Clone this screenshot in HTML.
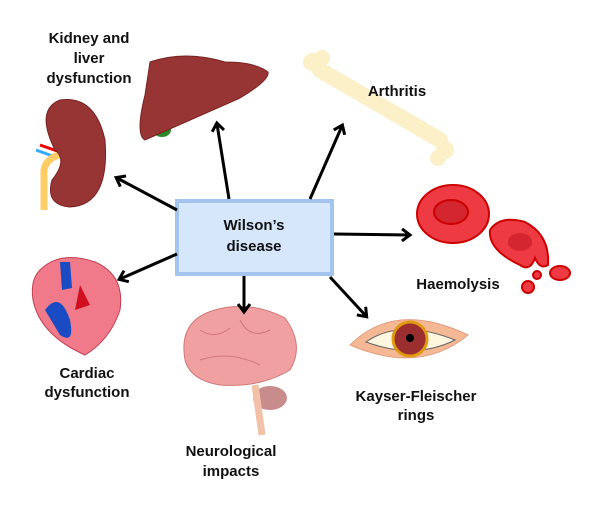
<!DOCTYPE html>
<html><head><style>
body{margin:0;background:#fff;width:602px;height:510px;overflow:hidden}
svg text{font-family:"Liberation Sans",sans-serif;font-weight:bold;font-size:15px;fill:#111;text-anchor:middle}
</style></head><body>
<svg width="602" height="510" viewBox="0 0 602 510">
<defs><marker id="a" markerWidth="14" markerHeight="14" refX="8" refY="7" orient="auto" markerUnits="userSpaceOnUse"><path d="M1,1 L9,7 L1,13" fill="none" stroke="#000" stroke-width="3"/></marker></defs>
<!-- kidney -->
<path d="M40,145 L60,152" stroke="#e00" stroke-width="3"/>
<path d="M36,150 L58,158" stroke="#3af" stroke-width="3"/>
<path d="M44,210 L44,170 Q46,158 62,154" stroke="#fc6" stroke-width="7" fill="none"/>
<path d="M60,100 Q95,95 105,140 Q110,205 70,207 Q45,205 52,180 Q68,160 55,150 Q35,110 60,100Z" fill="#973535" stroke="#7a2020"/>
<!-- liver -->
<ellipse cx="162" cy="130" rx="9" ry="7" fill="#2a8a2a"/>
<path d="M150,62 Q185,50 225,62 Q255,62 268,72 Q270,80 240,98 Q190,120 145,140 Q135,135 145,95Z" fill="#973535" stroke="#7a2020"/>
<!-- bone -->
<path d="M320,70 L440,140" stroke="#fbf0c8" stroke-width="16" stroke-linecap="round"/>
<circle cx="312" cy="62" r="9" fill="#fbf0c8"/><circle cx="322" cy="58" r="8" fill="#fbf0c8"/>
<circle cx="445" cy="150" r="9" fill="#fbf0c8"/><circle cx="438" cy="158" r="8" fill="#fbf0c8"/>
<!-- RBC -->
<ellipse cx="453" cy="214" rx="36" ry="29" fill="#ee3a42" stroke="#c00" stroke-width="2"/>
<ellipse cx="451" cy="212" rx="17" ry="12" fill="#d32630" stroke="#c00" stroke-width="2"/>
<path d="M520,265 Q488,250 490,230 Q500,215 525,222 Q550,235 548,265 Q540,270 535,258 Q530,272 520,265Z" fill="#ee3a42" stroke="#c00" stroke-width="2"/>
<ellipse cx="520" cy="242" rx="12" ry="9" fill="#d32630"/>
<ellipse cx="560" cy="273" rx="10" ry="7" fill="#ee3a42" stroke="#c00" stroke-width="2"/>
<circle cx="528" cy="287" r="6" fill="#ee3a42" stroke="#c00" stroke-width="2"/>
<circle cx="537" cy="275" r="4" fill="#ee3a42" stroke="#c00" stroke-width="2"/>
<!-- eye -->
<path d="M350,345 Q395,300 468,335 Q420,375 350,345Z" fill="#f4b894" stroke="#e4a080"/>
<path d="M366,342 Q400,318 455,340 Q415,360 366,342Z" fill="#fff6e0" stroke="#666"/>
<circle cx="410" cy="339" r="17" fill="#9b2f2f" stroke="#e09a10" stroke-width="3"/>
<circle cx="410" cy="338" r="4" fill="#000"/>
<!-- brain -->
<path d="M185,360 Q178,320 215,310 Q250,300 285,318 Q305,345 290,370 Q260,388 220,385 Q190,380 185,360Z" fill="#f0a0a0" stroke="#d07878"/>
<path d="M200,330 Q215,340 230,328 M240,320 Q250,340 270,330 M200,360 Q230,350 260,365" stroke="#d07878" fill="none"/>
<ellipse cx="270" cy="398" rx="17" ry="12" fill="#c98c8c"/>
<path d="M255,385 L262,435" stroke="#f3c0a8" stroke-width="7"/>
<!-- heart -->
<path d="M40,270 Q60,250 95,262 Q125,275 120,310 Q110,340 85,355 Q40,335 33,300 Q30,280 40,270Z" fill="#f07a8a" stroke="#c04050"/>
<path d="M45,310 Q60,290 70,320 Q75,345 60,335Z" fill="#1a4bc2"/>
<path d="M60,262 L62,290 L72,288 L70,262Z" fill="#1a4bc2"/>
<path d="M80,285 L90,305 L75,310Z" fill="#d01020"/>
<!-- box -->
<rect x="177" y="201" width="155" height="73" fill="#d6e6fb" stroke="#a3c4ec" stroke-width="4"/>
<text x="254" y="230">Wilson’s</text><text x="254" y="251">disease</text>
<!-- arrows -->
<g stroke="#000" stroke-width="3" fill="none">
<line x1="177" y1="210" x2="117" y2="178" marker-end="url(#a)"/>
<line x1="229" y1="199" x2="217" y2="124" marker-end="url(#a)"/>
<line x1="310" y1="199" x2="342" y2="126" marker-end="url(#a)"/>
<line x1="334" y1="234" x2="409" y2="235" marker-end="url(#a)"/>
<line x1="330" y1="277" x2="366" y2="316" marker-end="url(#a)"/>
<line x1="244" y1="276" x2="244" y2="311" marker-end="url(#a)"/>
<line x1="177" y1="254" x2="120" y2="279" marker-end="url(#a)"/>
</g>
<!-- labels -->
<text x="89" y="43">Kidney and</text><text x="89" y="63">liver</text><text x="89" y="83">dysfunction</text>
<text x="397" y="96">Arthritis</text>
<text x="458" y="289">Haemolysis</text>
<text x="416" y="401">Kayser-Fleischer</text><text x="416" y="420">rings</text>
<text x="231" y="456">Neurological</text><text x="231" y="476">impacts</text>
<text x="87" y="378">Cardiac</text><text x="87" y="397">dysfunction</text>
</svg>
</body></html>
